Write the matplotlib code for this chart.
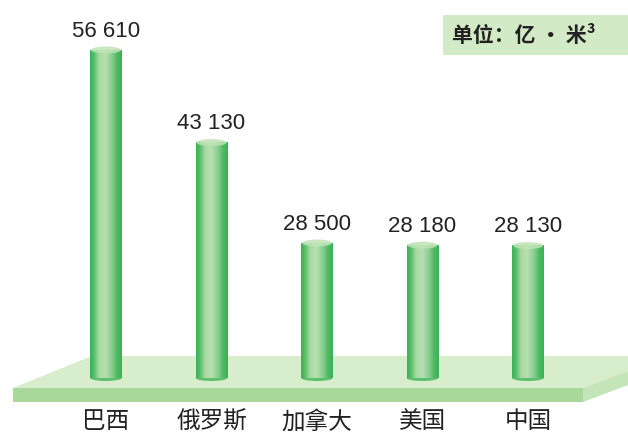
import numpy as np
import matplotlib
matplotlib.use("Agg")
import matplotlib.pyplot as plt
from matplotlib.colors import LinearSegmentedColormap
from matplotlib.patches import Polygon, Rectangle, Ellipse

countries = ["巴西", "俄罗斯", "加拿大", "美国", "中国"]
volumes = [56610, 43130, 28500, 28180, 28130]
value_labels = ["56 610", "43 130", "28 500", "28 180", "28 130"]
unit_text = "单位：亿 · 米³"

plt.rcParams["font.family"] = ["Noto Sans CJK SC", "DejaVu Sans"]

W, H = 628, 434
fig = plt.figure(figsize=(W / 100, H / 100), dpi=100)
fig.patch.set_facecolor("white")
ax = fig.add_axes([0, 0, 1, 1])
ax.set_axis_off()

# value axis: bars start at the platform, not at zero
px_per_val = 0.006866
p0 = 438.7
base = (p0 - 378) / px_per_val


def fpx(x, y):
    return (x / W, 1 - y / H)


# platform (decoration in figure pixels)
top_face = [fpx(13, 388), fpx(92, 356), fpx(668, 356), fpx(583, 388)]
front_face = [fpx(13, 388), fpx(583, 388), fpx(583, 402), fpx(13, 402)]
side_face = [fpx(583, 388), fpx(668, 356), fpx(668, 370), fpx(583, 402)]
for pts, col in [(top_face, "#d8edcc"), (front_face, "#a8d99a"), (side_face, "#c4e5b8")]:
    ax.add_patch(Polygon(pts, closed=True, transform=fig.transFigure,
                         facecolor=col, edgecolor="none", zorder=1, clip_on=False))

# cylinder bars
cyl = LinearSegmentedColormap.from_list("cyl", [
    (0.0, "#3cb158"), (0.12, "#55be69"), (0.28, "#a9d9a2"), (0.48, "#b8dfb2"),
    (0.68, "#8ccf92"), (0.86, "#4cba62"), (1.0, "#3bb057")])
grad = np.linspace(0, 1, 64).reshape(1, -1)
bar_w = 0.30
for i, v in enumerate(volumes):
    ax.imshow(grad, cmap=cyl, aspect="auto", interpolation="bilinear",
              extent=(i - bar_w / 2, i + bar_w / 2, base, v), zorder=3)
    ax.add_patch(Ellipse((i, v), bar_w * 0.95, 7 / px_per_val,
                         facecolor="#bfe3b6", edgecolor="none", alpha=0.85, zorder=4))
    ax.add_patch(Ellipse((i, base), bar_w, 6 / px_per_val,
                         facecolor="#5cbf6e", edgecolor="none", zorder=2))
    ax.text(i, v + 19 / px_per_val, value_labels[i], ha="center", va="center",
            fontsize=16, color="#222222", family=["Liberation Sans", "DejaVu Sans"])
    ax.text(i, (p0 - 422) / px_per_val, countries[i], ha="center", va="center",
            fontsize=17, color="#222222")

ax.set_ylim((p0 - H) / px_per_val, p0 / px_per_val)
ax.set_xlim(-106 / 105.5, (W - 106) / 105.5)

# unit box
x0, y0 = fpx(443, 55)
ax.add_patch(Rectangle((x0, y0), (W - 443) / W, 40 / H, transform=fig.transFigure,
                       facecolor="#d3eac6", edgecolor="none", zorder=1, clip_on=False))
fig.text(452 / W, 1 - 35 / H, unit_text, ha="left", va="center",
         fontsize=15, fontweight="bold", color="#222222")

fig.savefig("out.png", dpi=100)
